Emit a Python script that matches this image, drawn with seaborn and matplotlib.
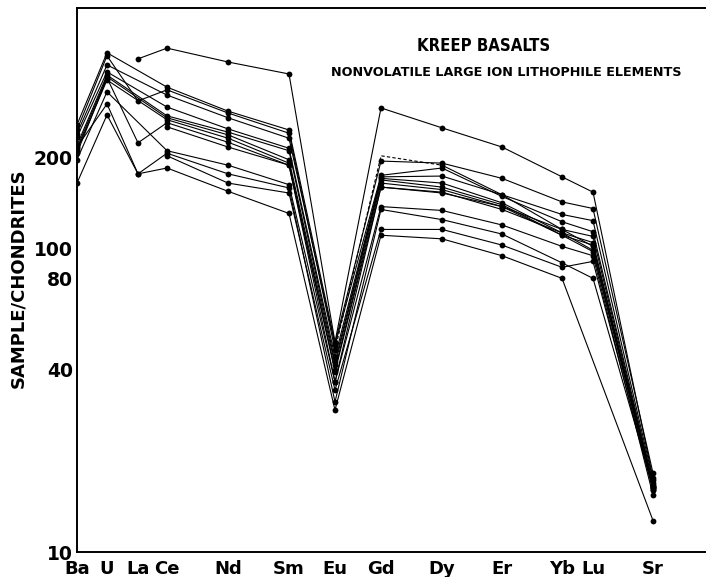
import numpy as np
import pandas as pd
import matplotlib
matplotlib.use("Agg")
import matplotlib.pyplot as plt
import seaborn as sns

# Elements along the x axis and their plotting positions
elements = ["Ba", "U", "La", "Ce", "Nd", "Sm", "Eu", "Gd", "Dy", "Er", "Yb", "Lu", "Sr"]
element_pos = [0, 30, 61, 90, 151, 212, 258, 304, 365, 425, 485, 516, 576]

nan = np.nan
# Chondrite-normalised abundances of the KREEP basalt samples
s01 = [nan, nan, 424, 460, 414, 378, 49.3, 292, 251, 217, 173, 154, 17.5]
s02 = [257, 444, nan, 342, 285, 247, 48.9, 195, 192, 171, 143, 136, 18.2]
s03 = [247, 434, 308, 335, 281, 241, 46.4, 203, 189, 151, 130, 124, 17.3]
s04 = [240, 405, nan, 322, 271, 232, 48.2, 175, 185, 149, 123, 114, 16.9]
s05 = [234, 384, nan, 294, 249, 215, 44.0, 173, 174, 151, 116, 110, 16.6]
s06 = [220, 375, nan, 275, 243, 211, 42.4, 171, 165, 142, 113, 105, 16.4]
s07 = [215, 370, nan, 271, 238, 197, 41.4, 169, 160, 140, 111, 103, 16.3]
s08 = [212, 361, nan, 267, 232, 192, 39.9, 165, 157, 138, 116, 102, 16.5]
s09 = [207, 367, 224, 261, 225, 189, 39.3, 160, 154, 135, 113, 99, 16.0]
s10 = [nan, nan, nan, 253, 217, 189, 36.4, 160, 153, 138, 111, 98, 16.3]
s11 = [197, 330, nan, 211, 189, 163, 36.4, 138, 134, 120, 102, 95, 15.4]
s12 = [217, 301, 177, 207, 177, 159, 31.3, 135, 125, 112, 90, 80, 16.4]
s13 = [nan, nan, nan, 203, 165, 153, 34.2, 116, 116, 103, 87, 91, 16.0]
s14 = [165, 277, 177, 185, 155, 131, 29.4, 111, 108, 95, 80, nan, 12.7]

samples = {"01": s01, "02": s02, "03": s03, "04": s04, "05": s05, "06": s06,
           "07": s07, "08": s08, "09": s09, "10": s10, "11": s11, "12": s12,
           "13": s13, "14": s14}
# sample whose Gd value is estimated (drawn dashed between Eu and Dy)
dashed_sample = "03"
dashed_span = ["Eu", "Gd", "Dy"]

solid_rows, dashed_rows = [], []
for name, vals in samples.items():
    for el, x, v in zip(elements, element_pos, vals):
        if np.isnan(v):
            continue
        if name == dashed_sample:
            if el in dashed_span:
                dashed_rows.append((name, x, v))
            if el == "Gd":
                continue
            unit = name + ("a" if elements.index(el) <= elements.index("Eu") else "b")
            solid_rows.append((unit, x, v))
        else:
            solid_rows.append((name, x, v))

solid = pd.DataFrame(solid_rows, columns=["sample", "x", "ratio"])
dashed = pd.DataFrame(dashed_rows, columns=["sample", "x", "ratio"])

sns.set_style("white")
plt.rcParams["font.family"] = ["DejaVu Sans"]
plt.rcParams["text.color"] = "black"
plt.rcParams["xtick.color"] = "black"
plt.rcParams["ytick.color"] = "black"
plt.rcParams["axes.labelcolor"] = "black"

fig = plt.figure(figsize=(7.06, 5.77), dpi=100)
ax = fig.add_axes([77 / 706, 25 / 577, 629 / 706, 544 / 577])

sns.lineplot(data=solid, x="x", y="ratio", units="sample", estimator=None,
             sort=False, color="black", lw=0.8, marker="o", markersize=4.2,
             markeredgewidth=0, ax=ax, legend=False)
sns.lineplot(data=dashed, x="x", y="ratio", units="sample", estimator=None,
             sort=False, color="black", lw=0.8, ax=ax, legend=False)
for ln in ax.lines[-1:]:
    ln.set_dashes((3, 2))

ax.set_yscale("log")
ax.set_xlim(0, 629)
ax.set_ylim(10, 624)

ax.set_xticks(element_pos)
ax.set_xticklabels(elements, fontsize=13, fontweight="bold")
ax.set_yticks([10, 40, 80, 100, 200])
ax.set_yticklabels(["10", "40", "80", "100", "200"], fontsize=13.5, fontweight="bold")
ax.yaxis.set_minor_locator(matplotlib.ticker.NullLocator())
ax.tick_params(axis="both", direction="in", length=7, width=1.1, color="black",
               labelcolor="black", pad=3)
ax.tick_params(axis="x", pad=6)
ax.set_xlabel("")
ax.set_ylabel("")

for side in ["left", "bottom", "top"]:
    ax.spines[side].set_visible(True)
    ax.spines[side].set_color("black")
    ax.spines[side].set_linewidth(1.4)
ax.spines["right"].set_visible(False)

fig.text(18 / 706, 1 - 278 / 577, "SAMPLE/CHONDRITES", rotation=90,
         ha="center", va="center", fontsize=13, fontweight="bold")
fig.text(484 / 706, 1 - 46 / 577, "KREEP BASALTS", ha="center", va="center",
         fontsize=12, fontweight="bold", fontstretch="condensed",
         family=["DejaVu Sans"])
fig.text(506 / 706, 1 - 73 / 577, "NONVOLATILE LARGE ION LITHOPHILE ELEMENTS",
         ha="center", va="center", fontsize=9.2, fontweight="bold")

fig.savefig("out.png", dpi=100)
